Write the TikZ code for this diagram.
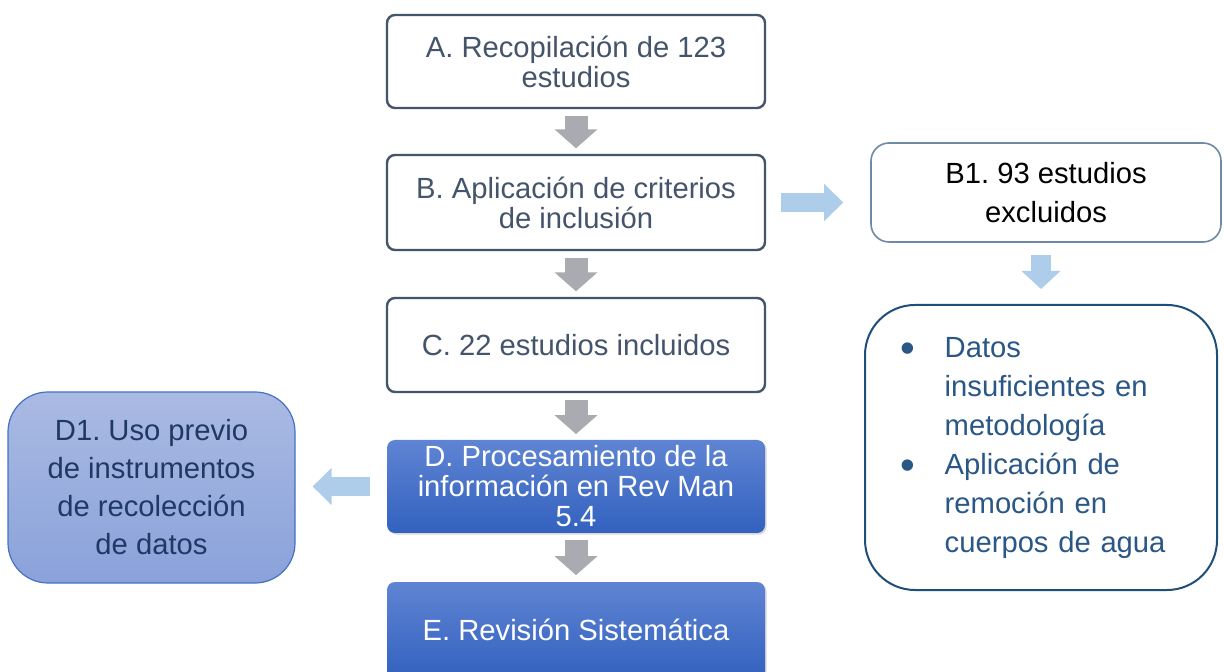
\documentclass[tikz,border=0pt]{standalone}
\usepackage{fontspec}
\setmainfont{Liberation Sans}
\usetikzlibrary{arrows.meta,shadows}
\frenchspacing
\definecolor{slate}{HTML}{44546A}
\definecolor{bonebd}{HTML}{6F8AA6}
\definecolor{navy}{HTML}{1F4E79}
\definecolor{listtxt}{HTML}{2A5786}
\definecolor{dtop}{HTML}{5F84D3}
\definecolor{dbot}{HTML}{3261BF}
\definecolor{dltop}{HTML}{AABAE3}
\definecolor{dlbot}{HTML}{8AA2DA}
\definecolor{dlbd}{HTML}{4472C4}
\definecolor{dltxt}{HTML}{1F3864}
\definecolor{grayarr}{HTML}{A9ABB1}
\definecolor{bluearr}{HTML}{ADCDEA}
\newcommand{\bigbul}{\raisebox{-2.2pt}{\fontsize{21}{19.5}\selectfont\textbullet}}
\tikzset{
  mainbox/.style={draw=slate, line width=1.2pt, rounded corners=4pt, fill=white,
    minimum width=189pt, minimum height=46.5pt, align=center, text=slate,
    font=\fontsize{14.6}{15}\selectfont\frenchspacing, inner sep=2pt},
  bluebox/.style={rounded corners=4pt, shading=axis, top color=dtop, bottom color=dbot,
    minimum width=189pt, align=center, text=white,
    font=\fontsize{14.6}{15}\selectfont\frenchspacing, inner sep=2pt,
    drop shadow={opacity=0.3, shadow xshift=0.8pt, shadow yshift=-0.8pt}},
  garrow/.style={draw=grayarr, line width=11.5pt, -{Triangle[width=21pt,length=9.5pt]}},
  barrow/.style={draw=bluearr, line width=9.5pt, -{Triangle[width=18pt,length=9.5pt]}},
}
\begin{document}
\begin{tikzpicture}[x=0.5pt,y=-0.5pt]
\clip (0,0) rectangle (1224,672);
\fill[white] (0,0) rectangle (1224,672);
\node[mainbox] (A) at (576,61.5) {A. Recopilación de 123\\estudios};
\node[mainbox, minimum height=47.5pt] (B) at (576,202.5) {B. Aplicación de criterios\\de inclusión};
\node[mainbox, minimum height=47pt] (C) at (576,345) {C. 22 estudios incluidos};
\node[bluebox, minimum height=46.5pt] (D) at (576,486.5) {D. Procesamiento de la\\información en Rev Man\\5.4};
\node[bluebox, minimum height=49pt, text depth=0pt] (E) at (576,631) {\raisebox{1.5pt}{E. Revisión Sistemática}};
\node[draw=bonebd, line width=0.8pt, rounded corners=9pt, fill=white,
  minimum width=175pt, minimum height=49.5pt, align=center, text=black,
  font=\fontsize{14.6}{19.5}\selectfont\frenchspacing] (B1) at (1046,192.5) {B1. 93 estudios\\excluidos};
\node[draw=navy, line width=1pt, rounded corners=25pt, fill=white,
  minimum width=176pt, minimum height=142.5pt, text width=141pt, inner xsep=16.5pt,
  align=left, text=listtxt, font=\fontsize{14.6}{19.5}\selectfont] (L) at (1041,447.5)
  {\begin{tabular}{@{}l@{\hspace{15pt}}l@{}}
   \bigbul & Datos\\ & insuficientes en\\ & metodología\\
   \bigbul & Aplicación de\\ & remoción en\\ & cuerpos de agua
   \end{tabular}};
\node[draw=dlbd, line width=0.6pt, rounded corners=20pt, shading=axis, top color=dltop,
  bottom color=dlbot, minimum width=143.5pt, minimum height=95.5pt, align=center,
  text=dltxt, font=\fontsize{14.6}{19}\selectfont\frenchspacing] (D1) at (151.5,487.5)
  {D1. Uso previo\\de instrumentos\\de recolección\\de datos};
\draw[garrow, shorten <=3.25pt, shorten >=2.75pt] (A) -- (B);
\draw[garrow, shorten <=3.25pt, shorten >=2.75pt] (B) -- (C);
\draw[garrow, shorten <=3.25pt, shorten >=2.75pt] (C) -- (D);
\draw[garrow, shorten <=3.25pt, shorten >=3.25pt] (D) -- (E);
\draw[barrow, shorten <=7.5pt, shorten >=13.5pt] (B.east) -- (B.east -| B1.west);
\draw[barrow, line width=10pt, -{Triangle[width=19pt,length=9pt]}, shorten <=6pt, shorten >=7.5pt] (L.north |- B1.south) -- (L.north);
\draw[barrow, shorten <=8.5pt, shorten >=8.5pt] (D.west) -- (D.west -| D1.east);
\end{tikzpicture}
\end{document}
